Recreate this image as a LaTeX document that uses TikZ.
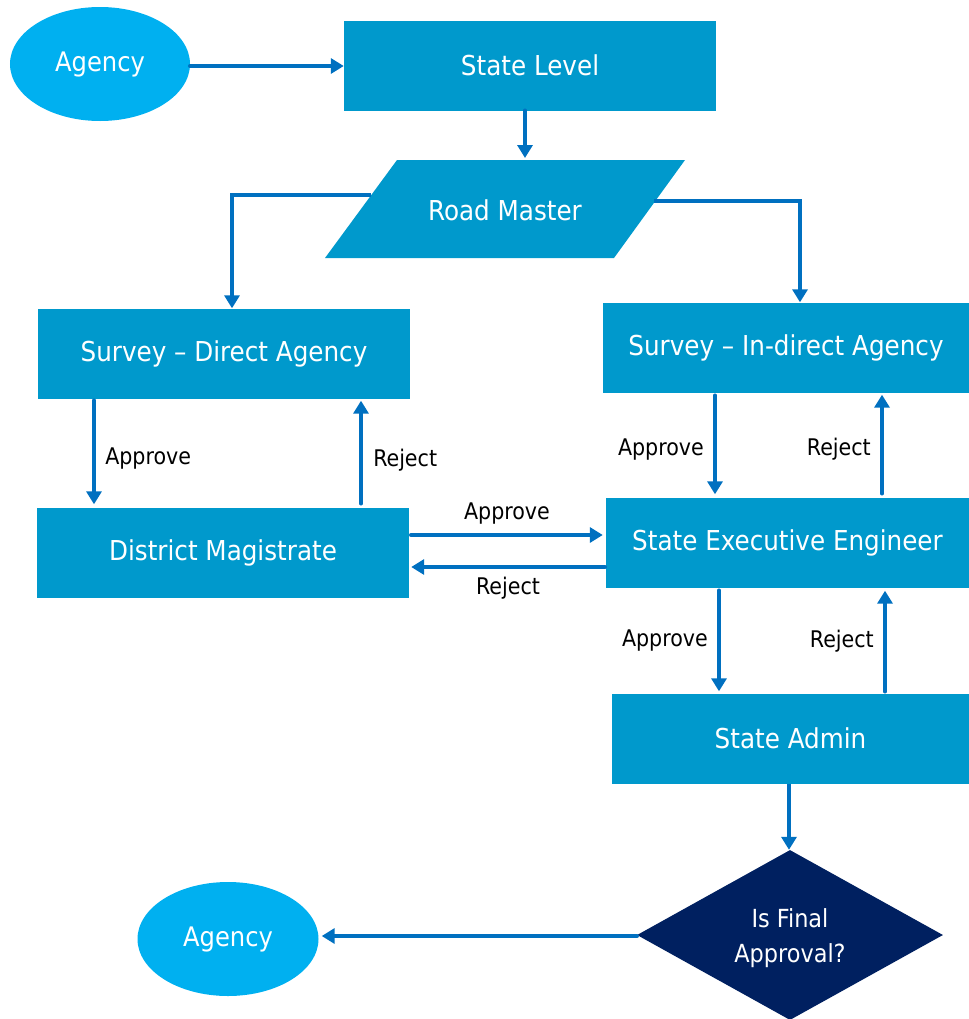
\documentclass[tikz,border=0pt]{standalone}
\usepackage{fontspec}
\setmainfont{DejaVu Sans Condensed}
\usetikzlibrary{shapes.geometric,arrows.meta}
\definecolor{boxblue}{HTML}{0099CC}
\definecolor{lightblue}{HTML}{00B0F0}
\definecolor{arrowblue}{HTML}{0070C0}
\definecolor{navy}{HTML}{002060}
\tikzset{
  procbox/.style={rectangle, fill=boxblue, text=white, inner sep=0pt, minimum width=#1, minimum height=90bp, font=\fontsize{27.5}{32}\selectfont},
  procbox/.default=372bp,
  agencyoval/.style={ellipse, fill=lightblue, text=white, inner sep=0pt, minimum width=180bp, minimum height=114bp, font=\fontsize{27}{32}\selectfont},
  flow/.style={draw=arrowblue, line width=4.5bp, line cap=round, -{Triangle[width=15bp,length=13bp]}},
  lbl/.style={text=black, inner sep=0pt, font=\fontsize{23}{27}\selectfont},
}
\begin{document}
\begin{tikzpicture}[x=1bp,y=-1bp]
\useasboundingbox (0,0) rectangle (969,1019);
% nodes
\node[agencyoval] (ag1) at (100,64) {Agency};
\node[procbox] (sl) at (530,65.5) {State Level};
\fill[boxblue] (397,160) -- (685,160) -- (614,258) -- (325,258) -- cycle;
\node[text=white, font=\fontsize{27.5}{32}\selectfont] (rm) at (505,210) {Road Master};
\coordinate (rmtop) at (525,158);
\coordinate (rmleft) at (371,195);
\coordinate (rmright) at (654,201);
\node[procbox] (sd) at (224,353.5) {Survey -- Direct Agency};
\node[procbox=366bp] (si) at (786,347.5) {Survey -- In-direct Agency};
\node[procbox] (dm) at (223,552.5) {District Magistrate};
\node[procbox=363bp] (see) at (787.5,542.5) {State Executive Engineer};
\node[procbox=357bp] (sa) at (790.5,738.5) {State Admin};
\node[diamond, fill=navy, text=white, inner sep=0pt, minimum width=306bp, minimum height=170bp, align=center, font=\fontsize{25}{35}\selectfont] (fa) at (790,935) {};
\node[text=white, align=center, font=\fontsize{25}{35}\selectfont] (fatext) at (790,938) {Is Final\\Approval?};
\node[agencyoval, minimum width=181bp, minimum height=114bp] (ag2) at (228,939) {Agency};
% guide coordinates for straight connectors
\coordinate (x94) at (94,0);
\coordinate (x361) at (361,0);
\coordinate (x715) at (715,0);
\coordinate (x882) at (882,0);
\coordinate (x719) at (719,0);
\coordinate (x885) at (885,0);
\coordinate (x789) at (789,0);
\coordinate (y535) at (0,535);
\coordinate (y567) at (0,567);
\coordinate (y936) at (0,936);
\coordinate (y66) at (0,66);
% connectors
\draw[flow] (ag1.east |- y66) -- (sl.west |- y66);
\draw[flow] (sl.south -| rmtop) -- (rmtop);
\draw[flow, line cap=butt] (rmleft) -| ([xshift=8bp]sd.north);
\draw[flow, line cap=butt] (rmright) -| ([xshift=14bp]si.north);
\draw[flow] ([yshift=-2bp]sd.south -| x94) -- node[lbl, right=9bp, pos=0.56] {Approve} ([yshift=3bp]dm.north -| x94);
\draw[flow] ([yshift=4bp]dm.north -| x361) -- node[lbl, right=10bp, pos=0.42] {Reject} ([yshift=-2bp]sd.south -| x361);
\draw[flow] ([xshift=2bp]dm.east |- y535) -- node[lbl, above=8bp] {Approve} ([xshift=-3bp]see.west |- y535);
\draw[flow] ([xshift=-1bp]see.west |- y567) -- node[lbl, below=8bp] {Reject} ([xshift=2bp]dm.east |- y567);
\draw[flow] ([yshift=-3bp]si.south -| x715) -- node[lbl, left=9bp, pos=0.55] {Approve} ([yshift=3bp]see.north -| x715);
\draw[flow] ([yshift=4bp]see.north -| x882) -- node[lbl, left=9bp, pos=0.45] {Reject} ([yshift=-2bp]si.south -| x882);
\draw[flow] ([yshift=-3bp]see.south -| x719) -- node[lbl, left=9bp, pos=0.5] {Approve} ([yshift=2bp]sa.north -| x719);
\draw[flow] ([yshift=2bp]sa.north -| x885) -- node[lbl, left=9bp, pos=0.5] {Reject} ([yshift=-3bp]see.south -| x885);
\draw[flow, line cap=butt] (sa.south -| x789) -- (fa.north -| x789);
\draw[flow] (fa.west |- y936) -- ([xshift=3bp]ag2.east |- y936);
\end{tikzpicture}
\end{document}
